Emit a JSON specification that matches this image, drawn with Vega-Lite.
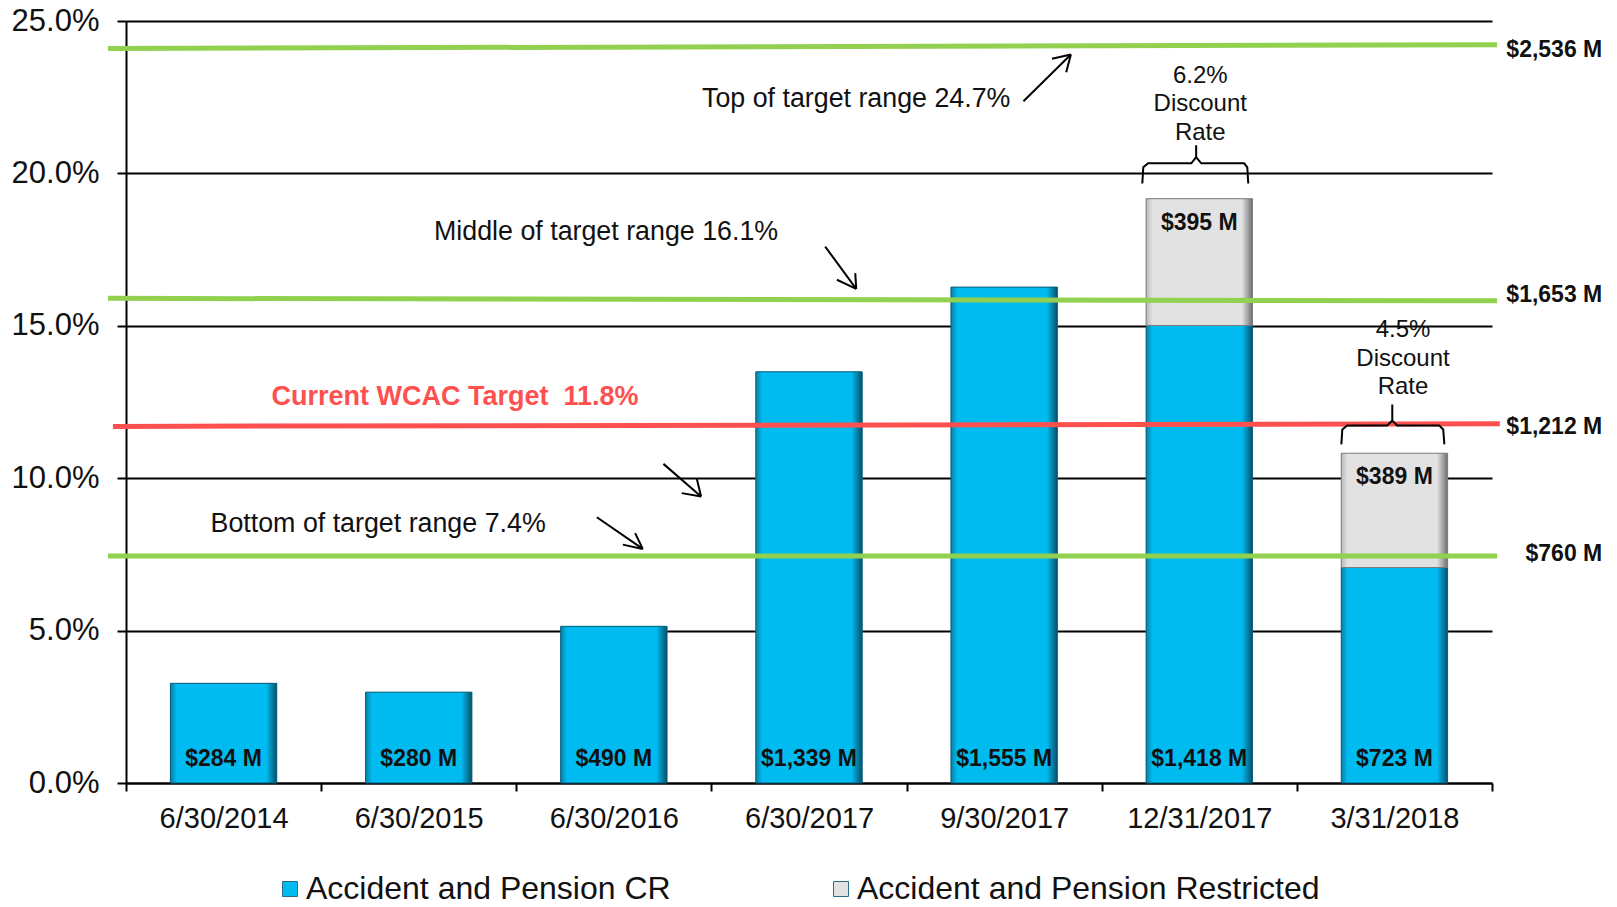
{
  "$schema": "https://vega.github.io/schema/vega-lite/v6.json",
  "width": 1366,
  "height": 762,
  "autosize": {"type": "none"},
  "padding": {"left": 126, "top": 21, "right": 125, "bottom": 124},
  "background": "white",
  "config": {"view": {"stroke": null}, "font": "Liberation Sans"},
  "datasets": {
    "bars": [
      {"date": "6/30/2014", "series": "Accident and Pension CR", "value": 3.27, "label": "$284 M"},
      {"date": "6/30/2015", "series": "Accident and Pension CR", "value": 2.98, "label": "$280 M"},
      {"date": "6/30/2016", "series": "Accident and Pension CR", "value": 5.14, "label": "$490 M"},
      {"date": "6/30/2017", "series": "Accident and Pension CR", "value": 13.49, "label": "$1,339 M"},
      {"date": "9/30/2017", "series": "Accident and Pension CR", "value": 16.27, "label": "$1,555 M"},
      {"date": "12/31/2017", "series": "Accident and Pension CR", "value": 15.01, "label": "$1,418 M"},
      {"date": "12/31/2017", "series": "Accident and Pension Restricted", "value": 4.16, "label": "$395 M"},
      {"date": "3/31/2018", "series": "Accident and Pension CR", "value": 7.07, "label": "$723 M"},
      {"date": "3/31/2018", "series": "Accident and Pension Restricted", "value": 3.75, "label": "$389 M"}
    ],
    "greenLines": [
      {"name": "Top", "x": -0.092, "x2": 7.026, "y": 24.10, "y2": 24.22},
      {"name": "Middle", "x": -0.092, "x2": 7.026, "y": 15.90, "y2": 15.82},
      {"name": "Bottom", "x": -0.092, "x2": 7.026, "y": 7.45, "y2": 7.45}
    ],
    "redLine": [
      {"name": "Current", "x": -0.067, "x2": 7.04, "y": 11.70, "y2": 11.785}
    ],
    "notes": [
      {"x": 3.742, "y": 22.17, "text": "Top of target range 24.7%"},
      {"x": 2.460, "y": 17.80, "text": "Middle of target range 16.1%"},
      {"x": 1.292, "y": 8.22, "text": "Bottom of target range 7.4%"}
    ],
    "redNote": [
      {"x": 1.686, "y": 12.39, "text": "Current WCAC Target\u00a0 11.8%"}
    ],
    "discount": [
      {"x": 5.505, "y": 22.98, "text": "6.2%\nDiscount\nRate"},
      {"x": 6.544, "y": 14.62, "text": "4.5%\nDiscount\nRate"}
    ],
    "rightLabels": [
      {"x": 7.565, "y": 24.05, "text": "$2,536 M"},
      {"x": 7.565, "y": 16.0, "text": "$1,653 M"},
      {"x": 7.565, "y": 11.68, "text": "$1,212 M"},
      {"x": 7.565, "y": 7.52, "text": "$760 M"}
    ],
    "arrows": [
      {"x": 4.599, "y": 22.37, "x2": 4.842, "y2": 23.90},
      {"x": 4.842, "y": 23.90, "x2": 4.745, "y2": 23.76},
      {"x": 4.842, "y": 23.90, "x2": 4.818, "y2": 23.32},
      {"x": 3.583, "y": 17.60, "x2": 3.742, "y2": 16.21},
      {"x": 3.742, "y": 16.21, "x2": 3.643, "y2": 16.51},
      {"x": 3.742, "y": 16.21, "x2": 3.737, "y2": 16.73},
      {"x": 2.754, "y": 10.47, "x2": 2.947, "y2": 9.40},
      {"x": 2.947, "y": 9.40, "x2": 2.848, "y2": 9.51},
      {"x": 2.947, "y": 9.40, "x2": 2.925, "y2": 9.98},
      {"x": 2.413, "y": 8.72, "x2": 2.648, "y2": 7.68},
      {"x": 2.648, "y": 7.68, "x2": 2.546, "y2": 7.82},
      {"x": 2.648, "y": 7.68, "x2": 2.609, "y2": 8.20}
    ],
    "braces": [
      {"brace": "a", "i": 0, "x": 5.208, "y": 19.67},
      {"brace": "a", "i": 1, "x": 5.213, "y": 20.20},
      {"brace": "a", "i": 2, "x": 5.238, "y": 20.33},
      {"brace": "a", "i": 3, "x": 5.459, "y": 20.33},
      {"brace": "a", "i": 4, "x": 5.484, "y": 20.53},
      {"brace": "a", "i": 5, "x": 5.484, "y": 20.92},
      {"brace": "a", "i": 6, "x": 5.484, "y": 20.53},
      {"brace": "a", "i": 7, "x": 5.510, "y": 20.33},
      {"brace": "a", "i": 8, "x": 5.730, "y": 20.33},
      {"brace": "a", "i": 9, "x": 5.746, "y": 20.20},
      {"brace": "a", "i": 10, "x": 5.751, "y": 19.67},
      {"brace": "b", "i": 0, "x": 6.228, "y": 11.11},
      {"brace": "b", "i": 1, "x": 6.233, "y": 11.60},
      {"brace": "b", "i": 2, "x": 6.258, "y": 11.73},
      {"brace": "b", "i": 3, "x": 6.463, "y": 11.73},
      {"brace": "b", "i": 4, "x": 6.489, "y": 11.89},
      {"brace": "b", "i": 5, "x": 6.489, "y": 12.42},
      {"brace": "b", "i": 6, "x": 6.489, "y": 11.89},
      {"brace": "b", "i": 7, "x": 6.514, "y": 11.73},
      {"brace": "b", "i": 8, "x": 6.730, "y": 11.73},
      {"brace": "b", "i": 9, "x": 6.750, "y": 11.60},
      {"brace": "b", "i": 10, "x": 6.756, "y": 11.11}
    ]
  },
  "layer": [
    {
      "data": {"name": "bars"},
      "layer": [
        {
          "mark": {"type": "bar", "width": {"band": 0.545}},
          "encoding": {
            "x": {
              "field": "date", "type": "nominal", "sort": null,
              "scale": {"paddingInner": 0, "paddingOuter": 0},
              "axis": {
                "title": null, "labelAngle": 0, "labelFont": "Liberation Sans", "labelFontSize": 29,
                "labelColor": "#111111", "labelPadding": 13, "tickBand": "extent", "ticks": true,
                "tickSize": 8, "tickColor": "black", "tickWidth": 2, "domainColor": "black",
                "domainWidth": 2, "grid": false
              }
            },
            "y": {
              "field": "value", "type": "quantitative", "stack": "zero",
              "scale": {"domain": [0, 25], "nice": false, "zero": true},
              "axis": {
                "title": null, "values": [0, 5, 10, 15, 20, 25],
                "labelExpr": "format(datum.value, '.1f') + '%'",
                "labelFont": "Liberation Sans", "labelFontSize": 31, "labelColor": "#111111",
                "labelPadding": 18, "tickSize": 9, "tickColor": "black", "tickWidth": 2,
                "domainColor": "black", "domainWidth": 2, "grid": true, "gridColor": "black",
                "gridWidth": 2, "gridOpacity": 1
              }
            },
            "order": {"field": "series", "sort": "ascending"},
            "color": {
              "field": "series", "type": "nominal",
              "scale": {
                "domain": ["Accident and Pension CR", "Accident and Pension Restricted"],
                "range": ["#00BBF0", "#E2E2E2"]
              },
              "legend": {
                "orient": "none", "legendX": 148, "legendY": 852, "direction": "horizontal",
                "title": null, "labelFont": "Liberation Sans", "labelFontSize": 32,
                "labelColor": "#111111", "symbolType": "square", "symbolSize": 225,
                "symbolStrokeColor": "#2a6f88", "symbolStrokeWidth": 1,
                "columnPadding": 154, "labelOffset": 0, "padding": 0, "labelLimit": 600
              }
            }
          }
        },
        {
          "transform": [
            {"stack": "value", "groupby": ["date"], "sort": [{"field": "series", "order": "ascending"}], "as": ["y0", "y1"]},
            {"filter": "datum.series == 'Accident and Pension CR'"}
          ],
          "mark": {
            "type": "bar", "width": {"band": 0.545}, "stroke": "#0b5d78", "strokeWidth": 1,
            "fill": {"gradient": "linear", "x1": 0, "x2": 1, "y1": 0, "y2": 0,
              "stops": [
                {"offset": 0, "color": "#0a7fa6"},
                {"offset": 0.06, "color": "#00BBF0"},
                {"offset": 0.9, "color": "#00BBF0"},
                {"offset": 1, "color": "#06506a"}
              ]}
          },
          "encoding": {
            "x": {"field": "date", "type": "nominal", "sort": null},
            "y": {"field": "y0", "type": "quantitative"},
            "y2": {"field": "y1"}
          }
        },
        {
          "transform": [
            {"stack": "value", "groupby": ["date"], "sort": [{"field": "series", "order": "ascending"}], "as": ["y0", "y1"]},
            {"filter": "datum.series == 'Accident and Pension Restricted'"}
          ],
          "mark": {
            "type": "bar", "width": {"band": 0.545}, "stroke": "#7a7a7a", "strokeWidth": 1,
            "fill": {"gradient": "linear", "x1": 0, "x2": 1, "y1": 0, "y2": 0,
              "stops": [
                {"offset": 0, "color": "#b8b8b8"},
                {"offset": 0.06, "color": "#E2E2E2"},
                {"offset": 0.9, "color": "#E2E2E2"},
                {"offset": 1, "color": "#6f6f6f"}
              ]}
          },
          "encoding": {
            "x": {"field": "date", "type": "nominal", "sort": null},
            "y": {"field": "y0", "type": "quantitative"},
            "y2": {"field": "y1"}
          }
        },
        {
          "transform": [{"filter": "datum.series == 'Accident and Pension CR'"}],
          "mark": {"type": "text", "font": "Liberation Sans", "fontSize": 23, "fontWeight": "bold", "color": "#111111", "baseline": "alphabetic", "dy": -17},
          "encoding": {
            "x": {"field": "date", "type": "nominal", "sort": null},
            "y": {"datum": 0, "type": "quantitative"},
            "text": {"field": "label"}
          }
        },
        {
          "transform": [
            {"joinaggregate": [{"op": "sum", "field": "value", "as": "total"}], "groupby": ["date"]},
            {"filter": "datum.series == 'Accident and Pension Restricted'"}
          ],
          "mark": {"type": "text", "font": "Liberation Sans", "fontSize": 23, "fontWeight": "bold", "color": "#111111", "baseline": "top", "dy": 13},
          "encoding": {
            "x": {"field": "date", "type": "nominal", "sort": null},
            "y": {"field": "total", "type": "quantitative"},
            "text": {"field": "label"}
          }
        }
      ]
    },
    {
      "layer": [
        {
          "data": {"name": "greenLines"},
          "mark": {"type": "rule", "color": "#92D050", "strokeWidth": 5},
          "encoding": {
            "x": {"field": "x", "type": "quantitative", "scale": {"domain": [0, 7], "nice": false, "zero": false}, "axis": null},
            "x2": {"field": "x2"},
            "y": {"field": "y", "type": "quantitative", "axis": null},
            "y2": {"field": "y2"}
          }
        },
        {
          "data": {"name": "redLine"},
          "mark": {"type": "rule", "color": "#FF5050", "strokeWidth": 5},
          "encoding": {
            "x": {"field": "x", "type": "quantitative", "axis": null},
            "x2": {"field": "x2"},
            "y": {"field": "y", "type": "quantitative", "axis": null},
            "y2": {"field": "y2"}
          }
        },
        {
          "data": {"name": "arrows"},
          "mark": {"type": "rule", "color": "black", "strokeWidth": 2},
          "encoding": {
            "x": {"field": "x", "type": "quantitative", "axis": null},
            "x2": {"field": "x2"},
            "y": {"field": "y", "type": "quantitative", "axis": null},
            "y2": {"field": "y2"}
          }
        },
        {
          "data": {"name": "braces"},
          "mark": {"type": "line", "color": "black", "strokeWidth": 2},
          "encoding": {
            "x": {"field": "x", "type": "quantitative", "axis": null},
            "y": {"field": "y", "type": "quantitative", "axis": null},
            "detail": {"field": "brace"},
            "order": {"field": "i"}
          }
        },
        {
          "data": {"name": "notes"},
          "mark": {"type": "text", "font": "Liberation Sans", "fontSize": 26.8, "color": "#111111", "align": "center", "baseline": "alphabetic"},
          "encoding": {
            "x": {"field": "x", "type": "quantitative", "axis": null},
            "y": {"field": "y", "type": "quantitative", "axis": null},
            "text": {"field": "text"}
          }
        },
        {
          "data": {"name": "redNote"},
          "mark": {"type": "text", "font": "Liberation Sans", "fontSize": 27, "fontWeight": "bold", "color": "#FF5050", "align": "center", "baseline": "alphabetic"},
          "encoding": {
            "x": {"field": "x", "type": "quantitative", "axis": null},
            "y": {"field": "y", "type": "quantitative", "axis": null},
            "text": {"field": "text"}
          }
        },
        {
          "data": {"name": "discount"},
          "mark": {"type": "text", "font": "Liberation Sans", "fontSize": 24, "color": "#111111", "align": "center", "baseline": "alphabetic", "lineBreak": "\n", "lineHeight": 28.5},
          "encoding": {
            "x": {"field": "x", "type": "quantitative", "axis": null},
            "y": {"field": "y", "type": "quantitative", "axis": null},
            "text": {"field": "text"}
          }
        },
        {
          "data": {"name": "rightLabels"},
          "mark": {"type": "text", "font": "Liberation Sans", "fontSize": 23, "fontWeight": "bold", "color": "#111111", "align": "right", "baseline": "middle"},
          "encoding": {
            "x": {"field": "x", "type": "quantitative", "axis": null},
            "y": {"field": "y", "type": "quantitative", "axis": null},
            "text": {"field": "text"}
          }
        }
      ]
    }
  ],
  "resolve": {"scale": {"x": "independent"}, "axis": {"y": "independent"}}
}
